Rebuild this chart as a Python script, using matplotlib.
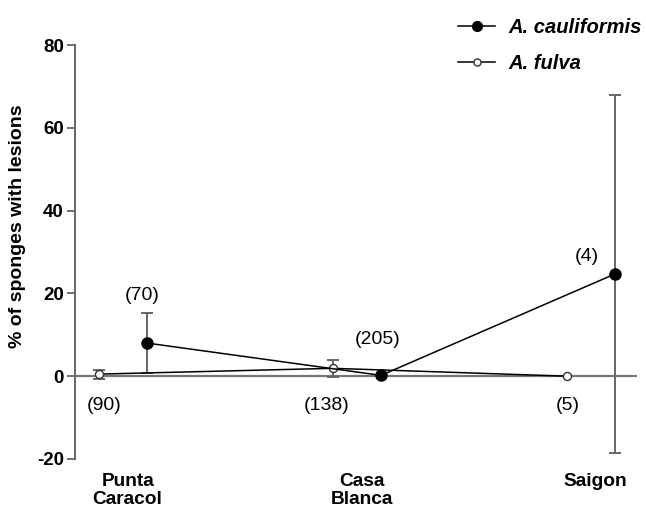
import matplotlib.pyplot as plt
import numpy as np

plt.rcParams['font.family'] = ['Liberation Sans', 'DejaVu Sans']
plt.rcParams['axes.unicode_minus'] = False

sites = ['Punta\nCaracol', 'Casa\nBlanca', 'Saigon']
caul_vals = [8.0, 0.2, 24.7]
caul_err = [7.2, 0.0, 43.2]
caul_n = ['(70)', '(205)', '(4)']
fulva_vals = [0.5, 1.9, 0.0]
fulva_err = [1.1, 2.1, 0.0]
fulva_n = ['(90)', '(138)', '(5)']

x = np.arange(len(sites))
off = 0.103

fig = plt.figure(figsize=(6.46, 5.11), dpi=100)
ax = fig.add_axes([0.1161, 0.1018, 0.87, 0.8101])

gray = '#666666'
ax.axhline(0, color='#777777', lw=1.6, zorder=1)

ax.errorbar(x + off, caul_vals, yerr=caul_err, fmt='none', ecolor=gray,
            elinewidth=1.4, capsize=4.5, capthick=1.4, zorder=2)
ax.errorbar(x - off, fulva_vals, yerr=fulva_err, fmt='none', ecolor=gray,
            elinewidth=1.4, capsize=4.5, capthick=1.4, zorder=2)

ax.plot(x + off, caul_vals, color='black', lw=1.1, marker='o', ms=8,
        mfc='black', mec='black', zorder=4, label='A. cauliformis')
ax.plot(x - off, fulva_vals, color='black', lw=1.1, marker='o', ms=5.8,
        mfc='white', mec='#333333', mew=1.0, zorder=3, label='A. fulva')

# sample sizes (n) next to each point
caul_tx = [0.081, 1.09, 1.983]
caul_ty = [19.6, 8.9, 29.0]
fulva_tx = [-0.081, 0.872, 1.902]
for tx, ty, t in zip(caul_tx, caul_ty, caul_n):
    ax.text(tx, ty, t, ha='center', va='center', fontsize=14)
for tx, t in zip(fulva_tx, fulva_n):
    ax.text(tx, -7.2, t, ha='center', va='center', fontsize=14)

ax.set_xlim(-0.205, 2.197)
ax.set_ylim(-20, 80)
ax.set_yticks([-20, 0, 20, 40, 60, 80])
ax.set_xticks(x + 0.02)
ax.set_xticklabels(sites, fontsize=13.8, fontweight='bold', linespacing=1.08)
ax.tick_params(axis='x', length=0, pad=10)
ax.tick_params(axis='y', length=6, width=1.3, color=gray, labelsize=13.5, pad=2)
for lab in ax.get_yticklabels():
    lab.set_fontweight('bold')

for s in ['top', 'right', 'bottom']:
    ax.spines[s].set_visible(False)
ax.spines['left'].set_color(gray)
ax.spines['left'].set_linewidth(1.4)

ax.set_ylabel('% of sponges with lesions', fontsize=14, fontweight='bold')
ax.yaxis.set_label_coords(-0.088, 0.563)

fig.legend(loc='upper left', bbox_to_anchor=(458 / 646, 1 - 18 / 511), frameon=False,
           prop={'weight': 'bold', 'style': 'italic', 'size': 14.5},
           handlelength=1.85, labelspacing=0.85, handletextpad=0.65,
           borderpad=0, borderaxespad=0, markerscale=0.88)

fig.savefig('out.png', dpi=100)
